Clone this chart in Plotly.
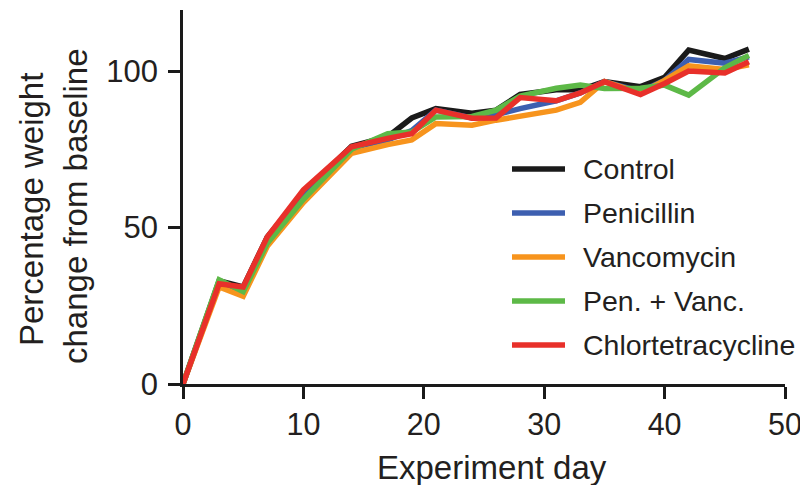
import plotly.graph_objects as go

days = [0, 3, 5, 7, 10, 14, 17, 19, 21, 24, 26, 28, 31, 33, 35, 38, 40, 42, 45, 47]

control = [0, 33, 31, 47, 61, 76, 79, 85, 88, 86.5, 87.5, 92.5, 94, 94, 96.6, 95, 98, 106.7, 104, 107]
penicillin = [0, 32, 30, 46, 60, 75.5, 78, 81, 87.5, 85, 86, 88, 90.5, 93, 96.6, 93.5, 97, 103.7, 102.5, 104.5]
vancomycin = [0, 31, 28, 44, 58, 73.7, 76.5, 78, 83.2, 82.7, 84.3, 85.5, 87.5, 90, 96.6, 93, 97, 101.7, 100.5, 102]
pen_vanc = [0, 33.3, 29.5, 45, 59, 75, 80, 80.5, 85.3, 85.5, 87.5, 92, 94.5, 95.5, 94.4, 94.5, 95.5, 92.3, 101, 105]
chlortetracycline = [0, 32, 31, 47, 62, 75.8, 78.5, 80, 87.5, 84.9, 85, 91.5, 90.5, 93, 96.6, 92.5, 96, 100, 99.4, 103]

series_names = ["Control", "Penicillin", "Vancomycin", "Pen. + Vanc.", "Chlortetracycline"]
series_values = [control, penicillin, vancomycin, pen_vanc, chlortetracycline]
colors = ["#1a1a1a", "#3d5fb0", "#f7941d", "#5db947", "#e8302a"]

x_ticks = [0, 10, 20, 30, 40, 50]
y_ticks = [0, 50, 100]

FONT = "Liberation Sans, Arial, Helvetica, sans-serif"
TXT = "#231f20"

# page offset (body margin) of the rendered figure
OFF = 8
W, H = 808 - OFF, 493 - 2 * OFF
# target plot area in page pixels: x 183..785, y 10..384
L, T = 183 - OFF, 10 - OFF
pw, ph = 602, 374
R = W - L - pw
B = H - T - ph


def px_to_paper(px, py):
    # page pixel -> paper coords
    return (px - OFF - L) / pw, (T + ph - (py - OFF)) / ph


fig = go.Figure()
for name, vals, col in zip(series_names, series_values, colors):
    fig.add_trace(go.Scatter(x=days, y=vals, mode="lines", name=name,
                             line=dict(color=col, width=5.5), showlegend=False))

# manual legend
for i, (name, col) in enumerate(zip(series_names, colors)):
    py = 169 + i * 44
    x0, y0 = px_to_paper(512, py)
    x1, _ = px_to_paper(565, py)
    fig.add_shape(type="line", xref="paper", yref="paper", x0=x0, x1=x1, y0=y0, y1=y0,
                  line=dict(color=col, width=5.5))
    tx, _ = px_to_paper(581, py)
    fig.add_annotation(xref="paper", yref="paper", x=tx, y=y0, text=name, showarrow=False,
                       xanchor="left", yanchor="middle",
                       font=dict(family=FONT, size=28.5, color=TXT))

# y-axis title (two lines)
for txt, cx, cy in [("Percentage weight", 32, 210), ("change from baseline", 75, 206)]:
    ax, ay = px_to_paper(cx, cy)
    fig.add_annotation(xref="paper", yref="paper", x=ax, y=ay, text=txt, showarrow=False,
                       textangle=-90, xanchor="center", yanchor="middle",
                       font=dict(family=FONT, size=33, color=TXT))

# x-axis title
ax, ay = px_to_paper(492, 467)
fig.add_annotation(xref="paper", yref="paper", x=ax, y=ay, text="Experiment day", showarrow=False,
                   xanchor="center", yanchor="middle",
                   font=dict(family=FONT, size=33, color=TXT))

fig.update_layout(
    width=W, height=H,
    margin=dict(l=L, r=R, t=T, b=B),
    plot_bgcolor="white", paper_bgcolor="white",
    font=dict(family=FONT, size=31, color=TXT),
)
fig.update_xaxes(range=[0, 50], tickvals=x_ticks, ticktext=[str(v) for v in x_ticks],
                 showline=True, linecolor="#1a1a1a", linewidth=2.5, showgrid=False, zeroline=False,
                 ticks="outside", ticklen=12, tickwidth=2.5, tickcolor="#1a1a1a",
                 ticklabelstandoff=0, tickfont=dict(family=FONT, size=30.5, color=TXT))
fig.update_yaxes(range=[0, 119.5], tickvals=y_ticks, ticktext=[str(v) for v in y_ticks],
                 showline=True, linecolor="#1a1a1a", linewidth=2.5, showgrid=False, zeroline=False,
                 ticks="outside", ticklen=12, tickwidth=2.5, tickcolor="#1a1a1a",
                 ticklabelstandoff=4, tickfont=dict(family=FONT, size=31, color=TXT))

fig.write_html("out.html")
